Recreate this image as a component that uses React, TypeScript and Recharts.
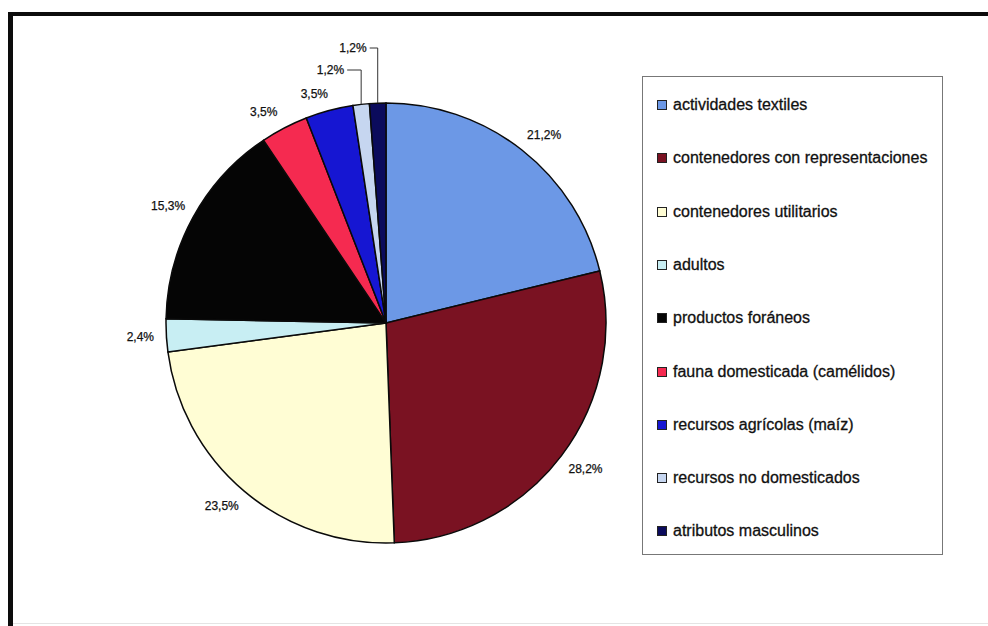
import React from "react"
import { PieChart, Pie, Legend } from "recharts"

const categories = [
  "actividades textiles",
  "contenedores con representaciones",
  "contenedores utilitarios",
  "adultos",
  "productos foráneos",
  "fauna domesticada (camélidos)",
  "recursos agrícolas (maíz)",
  "recursos no domesticados",
  "atributos masculinos",
]

const percentages = [21.2, 28.2, 23.5, 2.4, 15.3, 3.5, 3.5, 1.2, 1.2]

const colors = [
  "#6c98e6",
  "#7a1222",
  "#fffdd4",
  "#c8eef3",
  "#050505",
  "#f52a50",
  "#1616d2",
  "#c6d6f0",
  "#0b0b5c",
]

const data = categories.map((name, i) => ({
  name,
  value: percentages[i],
  fill: colors[i],
}))

const RADIAN = Math.PI / 180
const FONT = "'Liberation Sans', Arial, sans-serif"

const fmt = (v: number) => v.toFixed(1).replace(".", ",") + "%"
const clamp = (v: number) => Math.max(-1, Math.min(1, v))

// small slices at the top get their label lifted above the pie with a leader line
const leaderLift: Record<number, { rise: number; gap: number }> = {
  7: { rise: 33, gap: 17 },
  8: { rise: 55, gap: 11 },
}

const renderLabel = (props: any) => {
  const { cx, cy, midAngle, outerRadius, index, value } = props
  const cos = Math.cos(-midAngle * RADIAN)
  const sin = Math.sin(-midAngle * RADIAN)
  const px = cx + outerRadius * cos
  const py = cy + outerRadius * sin
  const lead = leaderLift[index]
  if (lead) {
    const ly = cy - outerRadius - lead.rise
    const tx = px - lead.gap
    return (
      <g key={`lbl-${index}`}>
        <polyline
          points={`${tx + 3},${ly} ${px},${ly} ${px},${py}`}
          fill="none"
          stroke="#333"
          strokeWidth={1}
        />
        <text
          x={tx}
          y={ly}
          textAnchor="end"
          dominantBaseline="central"
          fontFamily={FONT}
          fontSize={12}
          fill="#111"
          stroke="#111"
          strokeWidth={0.25}
        >
          {fmt(value)}
        </text>
      </g>
    )
  }
  // label box sits just outside the rim, pushed out by half its size
  const gap = 10
  const halfW = 16
  const halfH = 7
  const x = px + cos * gap + halfW * clamp(cos * 3)
  const y = py + sin * gap + halfH * clamp(sin * 3)
  return (
    <text
      key={`lbl-${index}`}
      x={x}
      y={y}
      textAnchor="middle"
      dominantBaseline="central"
      fontFamily={FONT}
      fontSize={12}
      fill="#111"
      stroke="#111"
      strokeWidth={0.25}
    >
      {fmt(value)}
    </text>
  )
}

const LegendBox = () => (
  <div
    style={{
      width: 301,
      height: 479,
      boxSizing: "border-box",
      border: "1px solid #777",
      background: "#fff",
      position: "relative",
      fontFamily: FONT,
      fontSize: 16,
      color: "#111",
      WebkitTextStroke: "0.3px #111",
    }}
  >
    {categories.map((name, i) => (
      <div
        key={name}
        style={{
          position: "absolute",
          left: 14,
          top: 28 + i * 53.3 - 10,
          height: 20,
          display: "flex",
          alignItems: "center",
          whiteSpace: "nowrap",
        }}
      >
        <span
          style={{
            display: "inline-block",
            width: 8,
            height: 8,
            background: colors[i],
            border: "1px solid #222",
            marginRight: 6,
          }}
        />
        {name}
      </div>
    ))}
  </div>
)

export default function App() {
  return (
    <div style={{ position: "absolute", left: 0, top: 0, width: 988, height: 626, background: "#fff" }}>
      {/* outer frame */}
      <div
        style={{
          position: "absolute",
          left: 8,
          top: 12,
          width: 980,
          height: 614,
          boxSizing: "border-box",
          borderTop: "4px solid #0c0c0c",
          borderLeft: "5px solid #0c0c0c",
        }}
      />
      <div style={{ position: "absolute", left: 13, top: 623, width: 975, height: 1, background: "#e4e4e4" }} />
      <div style={{ position: "absolute", left: 0, top: 0 }}>
        <PieChart width={988} height={626} margin={{ top: 0, right: 0, bottom: 0, left: 0 }}>
          <Pie
            data={data}
            dataKey="value"
            nameKey="name"
            cx={386}
            cy={323}
            outerRadius={220}
            startAngle={90}
            endAngle={-270}
            stroke="#0a0a0a"
            strokeWidth={1.5}
            label={renderLabel}
            labelLine={false}
            isAnimationActive={false}
          />
          <Legend
            content={() => <LegendBox />}
            wrapperStyle={{ position: "absolute", left: 642, top: 76, width: 301, height: 479 }}
          />
        </PieChart>
      </div>
    </div>
  )
}
